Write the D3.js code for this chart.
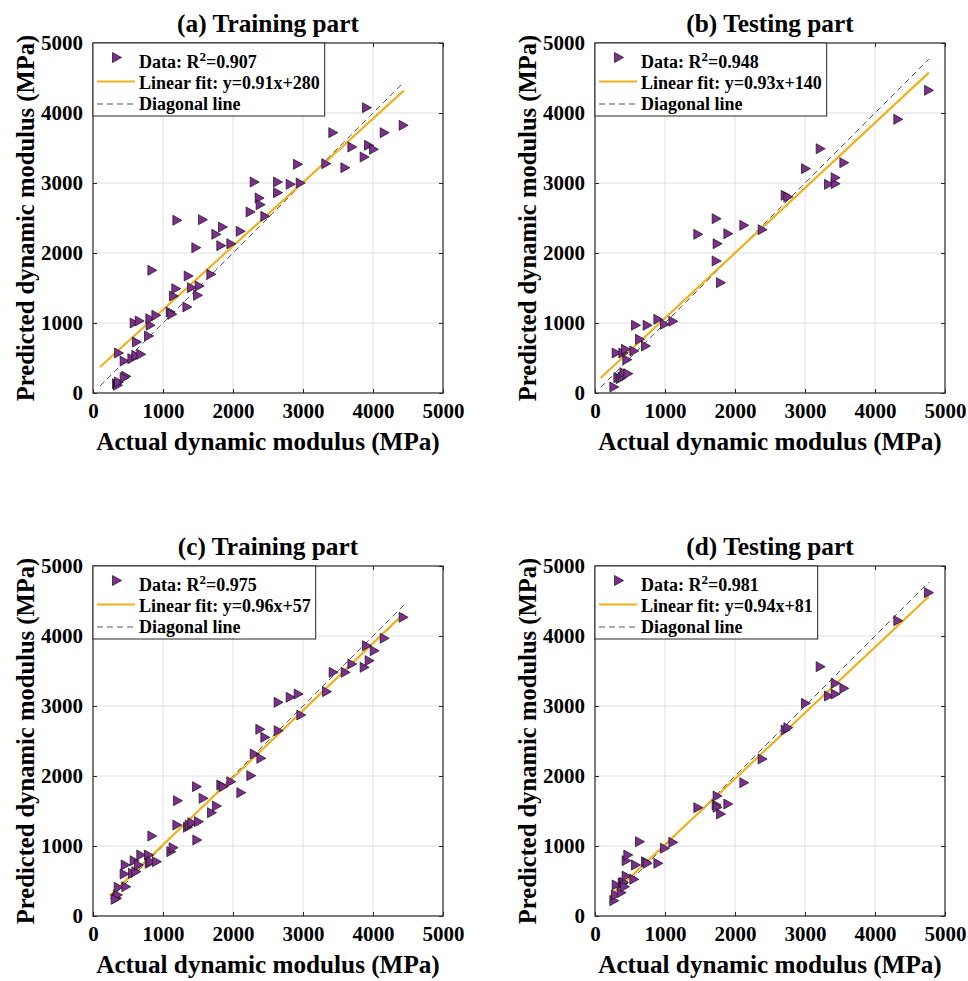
<!DOCTYPE html>
<html>
<head>
<meta charset="utf-8">
<script src="https://cdn.jsdelivr.net/npm/d3@7"></script>
<style>
  body { margin: 0; background: #fff; }
  svg text { font-family: "Liberation Serif", "Times New Roman", serif; font-weight: bold; fill: #000; }
</style>
</head>
<body>
<svg id="chart" width="968" height="981"></svg>
<script>
// ---------- data ----------
const ticks = [0, 1000, 2000, 3000, 4000, 5000];
const titles = ["(a) Training part", "(b) Testing part", "(c) Training part", "(d) Testing part"];
const r2Labels = ["0.907", "0.948", "0.975", "0.981"];
const fitSlopes = [0.91, 0.93, 0.96, 0.94];
const fitIntercepts = [280, 140, 57, 81];
const fitRanges = [[100, 4440], [80, 4770], [240, 4440], [210, 4770]];

const aX = [343, 357, 371, 371, 452, 476, 452, 562, 619, 690, 595, 667, 629, 800, 824, 819, 905, 848, 1110, 1133, 1157, 1190, 1205, 1348, 1367, 1414, 1524, 1500, 1476, 1571, 1690, 1762, 1833, 1857, 1976, 2110, 2252, 2310, 2381, 2395, 2462, 2643, 2643, 2824, 2967, 2929, 3333, 3433, 3605, 3705, 3881, 3943, 4014, 3914, 4167, 4438];
const aY = [133, 110, 157, 571, 457, 238, 219, 490, 538, 552, 1000, 1029, 729, 814, 967, 1062, 1110, 1752, 1157, 1124, 1386, 1490, 2467, 1229, 1671, 1505, 1529, 1395, 2076, 2476, 1695, 2267, 2105, 2371, 2133, 2310, 2586, 3014, 2786, 2690, 2524, 3014, 2862, 2981, 3000, 3267, 3276, 3719, 3219, 3514, 3371, 3538, 3481, 4076, 3719, 3824];

const bX = [276, 310, 333, 367, 395, 419, 476, 405, 443, 462, 562, 586, 643, 729, 752, 905, 1000, 1119, 1476, 1738, 1752, 1738, 1800, 1905, 2133, 2395, 2724, 2762, 3014, 3224, 3343, 3438, 3438, 3562, 4333, 4771];
const bY = [86, 571, 219, 205, 229, 290, 276, 571, 624, 476, 600, 967, 767, 671, 967, 1052, 981, 1024, 2267, 2490, 2133, 1886, 1576, 2276, 2395, 2333, 2824, 2800, 3205, 3490, 2981, 2990, 3076, 3290, 3910, 4324];

const cX = [343, 357, 367, 324, 476, 467, 452, 571, 619, 595, 657, 690, 800, 810, 833, 914, 848, 1119, 1152, 1205, 1214, 1357, 1381, 1419, 1514, 1490, 1486, 1581, 1700, 1771, 1833, 1867, 1976, 2119, 2262, 2310, 2390, 2405, 2462, 2652, 2652, 2824, 2938, 2976, 3343, 3438, 3610, 3705, 3881, 3914, 3952, 4024, 4167, 4438];
const cY = [252, 300, 410, 238, 419, 729, 600, 610, 633, 790, 729, 871, 871, 752, 776, 776, 1143, 919, 976, 1300, 1648, 1267, 1300, 1333, 1348, 1086, 1848, 1681, 1476, 1571, 1871, 1848, 1919, 1762, 2005, 2314, 2667, 2252, 2552, 2648, 3052, 3124, 3171, 2871, 3205, 3481, 3481, 3600, 3552, 3862, 3648, 3790, 3967, 4267];

const dX = [276, 300, 310, 381, 395, 414, 429, 452, 452, 476, 562, 586, 643, 729, 752, 905, 1000, 1119, 1476, 1752, 1738, 1752, 1800, 1905, 2133, 2395, 2724, 2762, 3014, 3224, 3343, 3438, 3438, 3562, 4333, 4771];
const dY = [219, 300, 443, 333, 467, 481, 419, 571, 790, 871, 524, 729, 1062, 776, 752, 752, 967, 1052, 1548, 1714, 1586, 1552, 1457, 1600, 1905, 2243, 2657, 2690, 3038, 3562, 3143, 3171, 3324, 3252, 4219, 4619];

const panelX = [aX, bX, cX, dX];
const panelY = [aY, bY, cY, dY];

// ---------- layout ----------
const origins = [[93, 43], [595, 43], [93, 566], [595, 566]];
const W = 350, H = 350;
const purple = "#7E2F8E", orange = "#EDB120";

const svg = d3.select("#chart");
const x = d3.scaleLinear().domain([0, 5000]).range([0, W]);
const y = d3.scaleLinear().domain([0, 5000]).range([H, 0]);
const tri = "M-4.5,-5L4.5,0L-4.5,5Z";

origins.forEach(([ox, oy], i) => {
  const g = svg.append("g").attr("transform", `translate(${ox},${oy})`);

  // grid
  g.append("g").selectAll("line.gx").data(ticks.slice(1, -1)).join("line")
    .attr("x1", d => x(d)).attr("x2", d => x(d)).attr("y1", 0).attr("y2", H)
    .attr("stroke", "#dfdfdf").attr("stroke-width", 1);
  g.append("g").selectAll("line.gy").data(ticks.slice(1, -1)).join("line")
    .attr("y1", d => y(d)).attr("y2", d => y(d)).attr("x1", 0).attr("x2", W)
    .attr("stroke", "#dfdfdf").attr("stroke-width", 1);

  // lines
  const [r0, r1] = fitRanges[i];
  g.append("line")
    .attr("x1", x(r0)).attr("y1", y(r0)).attr("x2", x(r1)).attr("y2", y(r1))
    .attr("stroke", "#555").attr("stroke-width", 1).attr("stroke-dasharray", "6,4");
  const f = v => fitSlopes[i] * v + fitIntercepts[i];
  g.append("line")
    .attr("x1", x(r0)).attr("y1", y(f(r0))).attr("x2", x(r1)).attr("y2", y(f(r1)))
    .attr("stroke", orange).attr("stroke-width", 2.2);

  // markers
  const pts = panelX[i].map((v, k) => [v, panelY[i][k]]);
  g.append("g").selectAll("path").data(pts).join("path")
    .attr("d", tri)
    .attr("transform", d => `translate(${x(d[0])},${y(d[1])})`)
    .attr("fill", purple).attr("stroke", "#111").attr("stroke-width", 0.7);

  // axes with inward ticks on all sides
  const tl = 4;
  g.append("g").attr("transform", `translate(0,${H})`)
    .call(d3.axisBottom(x).tickValues(ticks).tickSize(-tl).tickPadding(10).tickFormat(d3.format("d")))
    .call(s => s.select(".domain").remove());
  g.append("g").call(d3.axisTop(x).tickValues(ticks).tickSize(-tl).tickFormat(""))
    .call(s => s.select(".domain").remove());
  g.append("g").call(d3.axisLeft(y).tickValues(ticks).tickSize(-tl).tickPadding(10).tickFormat(d3.format("d")))
    .call(s => s.select(".domain").remove());
  g.append("g").attr("transform", `translate(${W},0)`)
    .call(d3.axisRight(y).tickValues(ticks).tickSize(-tl).tickFormat(""))
    .call(s => s.select(".domain").remove());
  g.selectAll(".tick line").attr("stroke", "#262626");
  g.selectAll(".tick text").style("font-size", "21px").style("font-family", "'Liberation Serif', serif").style("font-weight", "bold").attr("fill", "#000");
  g.append("rect").attr("width", W).attr("height", H).attr("fill", "none")
    .attr("stroke", "#262626").attr("stroke-width", 1.2);

  // title and labels
  g.append("text").attr("x", W / 2).attr("y", -11).attr("text-anchor", "middle")
    .style("font-size", "25.3px").text(titles[i]);
  g.append("text").attr("x", W / 2).attr("y", H + 57).attr("text-anchor", "middle")
    .style("font-size", "25.2px").text("Actual dynamic modulus (MPa)");
  g.append("text").attr("transform", `translate(-59,${H / 2}) rotate(-90)`).attr("text-anchor", "middle")
    .style("font-size", "24.6px").text("Predicted dynamic modulus (MPa)");

  // legend
  const lg = g.append("g");
  const box = lg.append("rect").attr("x", 0).attr("y", 0).attr("height", 73)
    .attr("fill", "#fff").attr("stroke", "#262626").attr("stroke-width", 1);
  lg.append("path").attr("d", tri).attr("transform", "translate(24,14.5)")
    .attr("fill", purple).attr("stroke", "#111").attr("stroke-width", 0.7);
  const t1 = lg.append("text").attr("x", 46).attr("y", 24.5).style("font-size", "18px");
  t1.append("tspan").text("Data: R");
  t1.append("tspan").attr("dy", -7).style("font-size", "13px").text("2");
  t1.append("tspan").attr("dy", 7).text("=" + r2Labels[i]);
  lg.append("line").attr("x1", 4).attr("x2", 42).attr("y1", 38.5).attr("y2", 38.5)
    .attr("stroke", orange).attr("stroke-width", 2.2);
  const t2 = lg.append("text").attr("x", 46).attr("y", 45.5).style("font-size", "18px")
    .text(`Linear fit: y=${fitSlopes[i]}x+${fitIntercepts[i]}`);
  lg.append("line").attr("x1", 4).attr("x2", 42).attr("y1", 61).attr("y2", 61)
    .attr("stroke", "#555").attr("stroke-width", 1).attr("stroke-dasharray", "6,4");
  lg.append("text").attr("x", 46).attr("y", 67).style("font-size", "18px").text("Diagonal line");
  const wmax = Math.max(t1.node().getComputedTextLength(), t2.node().getComputedTextLength());
  box.attr("width", 46 + wmax + 5);
});
</script>
</body>
</html>
